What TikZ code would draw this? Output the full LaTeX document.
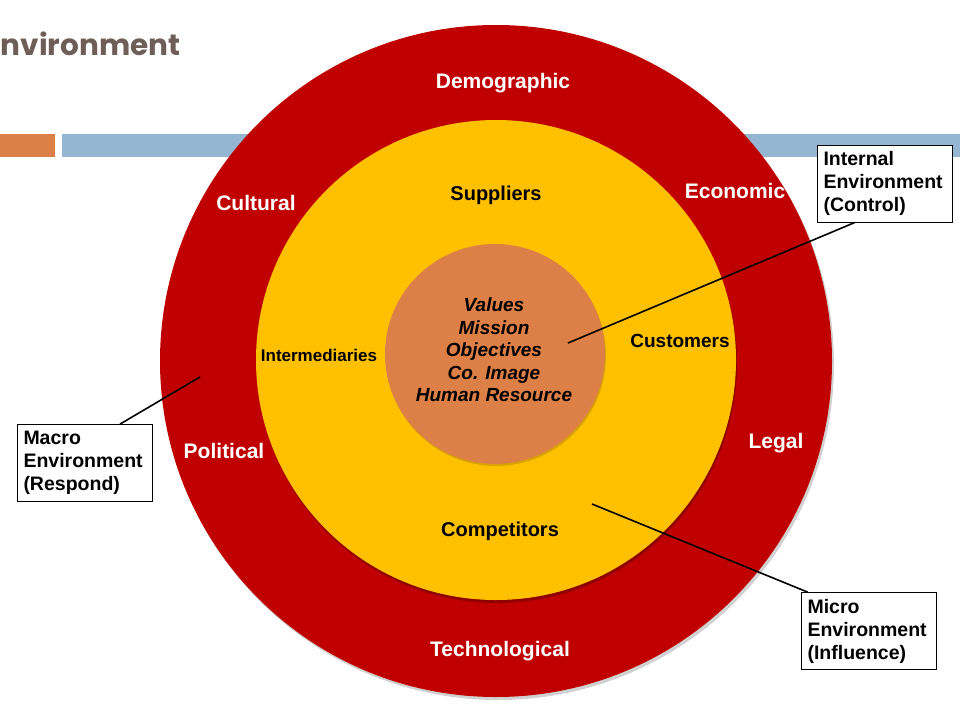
\documentclass[tikz,border=0pt]{standalone}
\usepackage{fontspec}
\setmainfont{Liberation Sans}
\newfontfamily\titlefont{Poppins}
\usepackage{tikz}
\usetikzlibrary{positioning}

\definecolor{ringred}{RGB}{192,0,0}
\definecolor{ringyellow}{RGB}{255,192,0}
\definecolor{coreorange}{RGB}{221,128,71}
\definecolor{barblue}{RGB}{148,182,210}
\definecolor{titlebrown}{RGB}{110,94,88}

\tikzset{
  ringlabel/.style={font=\fontsize{21}{25}\selectfont\bfseries, text=white},
  microlabel/.style={font=\fontsize{20}{24}\selectfont\bfseries, text=black},
  notebox/.style={draw=black, line width=0.8pt, fill=white, align=left, text width=122pt,
    minimum width=135pt, minimum height=77pt, inner sep=0pt,
    font=\fontsize{19.5}{23}\selectfont\bfseries},
  leader/.style={draw=black, line width=1.6pt}
}

\begin{document}
\begin{tikzpicture}[x=1pt,y=-1pt]
\useasboundingbox (0,0) rectangle (960,720);

% Title
\draw (0.5,55) node (title) [anchor=base west, inner sep=0pt, font=\titlefont\fontsize{29.5}{32}\selectfont\bfseries, text=titlebrown] {nvironment};

%Shape: Rectangle
\fill [coreorange] (0,134) rectangle (55,157);
\fill [barblue] (62,134) rectangle (960,157);

%Shape: Circle
\fill [black, opacity=0.18] (498,364) circle (336);
\draw (496,361) node (macroring) [circle, fill=ringred, minimum size=672pt, inner sep=0pt] {};
\fill [black, opacity=0.25] (497,363) circle (240);
\draw (496,360) node (microring) [circle, fill=ringyellow, minimum size=480pt, inner sep=0pt] {};
\fill [black, opacity=0.15] (496,356) circle (110);
\draw (495,354) node (corecircle) [circle, fill=coreorange, minimum size=220pt, inner sep=0pt] {};

% Text Node
\draw (503,83) node (demographic) [ringlabel] {Demographic};
\draw (256,203) node (cultural) [ringlabel] {Cultural};
\draw (735,191) node (economic) [ringlabel] {Economic};
\draw (224,451) node (political) [ringlabel] {Political};
\draw (776,443) node (legal) [ringlabel] {Legal};
\draw (500,651) node (technological) [ringlabel] {Technological};
% Text Node
\draw (496,195) node (suppliers) [microlabel] {Suppliers};
\draw (319,355) node (intermediaries) [microlabel, font=\fontsize{17}{20}\selectfont\bfseries] {Intermediaries};
\draw (680,341) node (customers) [microlabel, font=\fontsize{19}{22}\selectfont\bfseries] {Customers};
\draw (500,531) node (competitors) [microlabel] {Competitors};
% Text Node
\draw (494,350) node (corevalues) [align=center, font=\fontsize{19}{22.5}\selectfont\bfseries\itshape] {Values\\Mission\\Objectives\\Co. Image\\Human Resource};

% Leaders
\coordinate (corepin) at (568,343);
\coordinate (macropin) at (200,377);
\coordinate (micropin) at (592,504);

\draw (884.5,183.5) node (internalbox) [notebox] {Internal\\Environment\\(Control)};
\draw (84.5,463) node (macrobox) [notebox] {Macro\\Environment\\(Respond)};
\draw (868.5,631) node (microbox) [notebox] {Micro\\Environment\\(Influence)};

\draw [leader] ([xshift=-29.5pt]internalbox.south) -- (corepin);
\draw [leader] ([xshift=35.5pt]macrobox.north) -- (macropin);
\draw [leader] ([xshift=7pt]microbox.north west) -- (micropin);

\end{tikzpicture}
\end{document}
